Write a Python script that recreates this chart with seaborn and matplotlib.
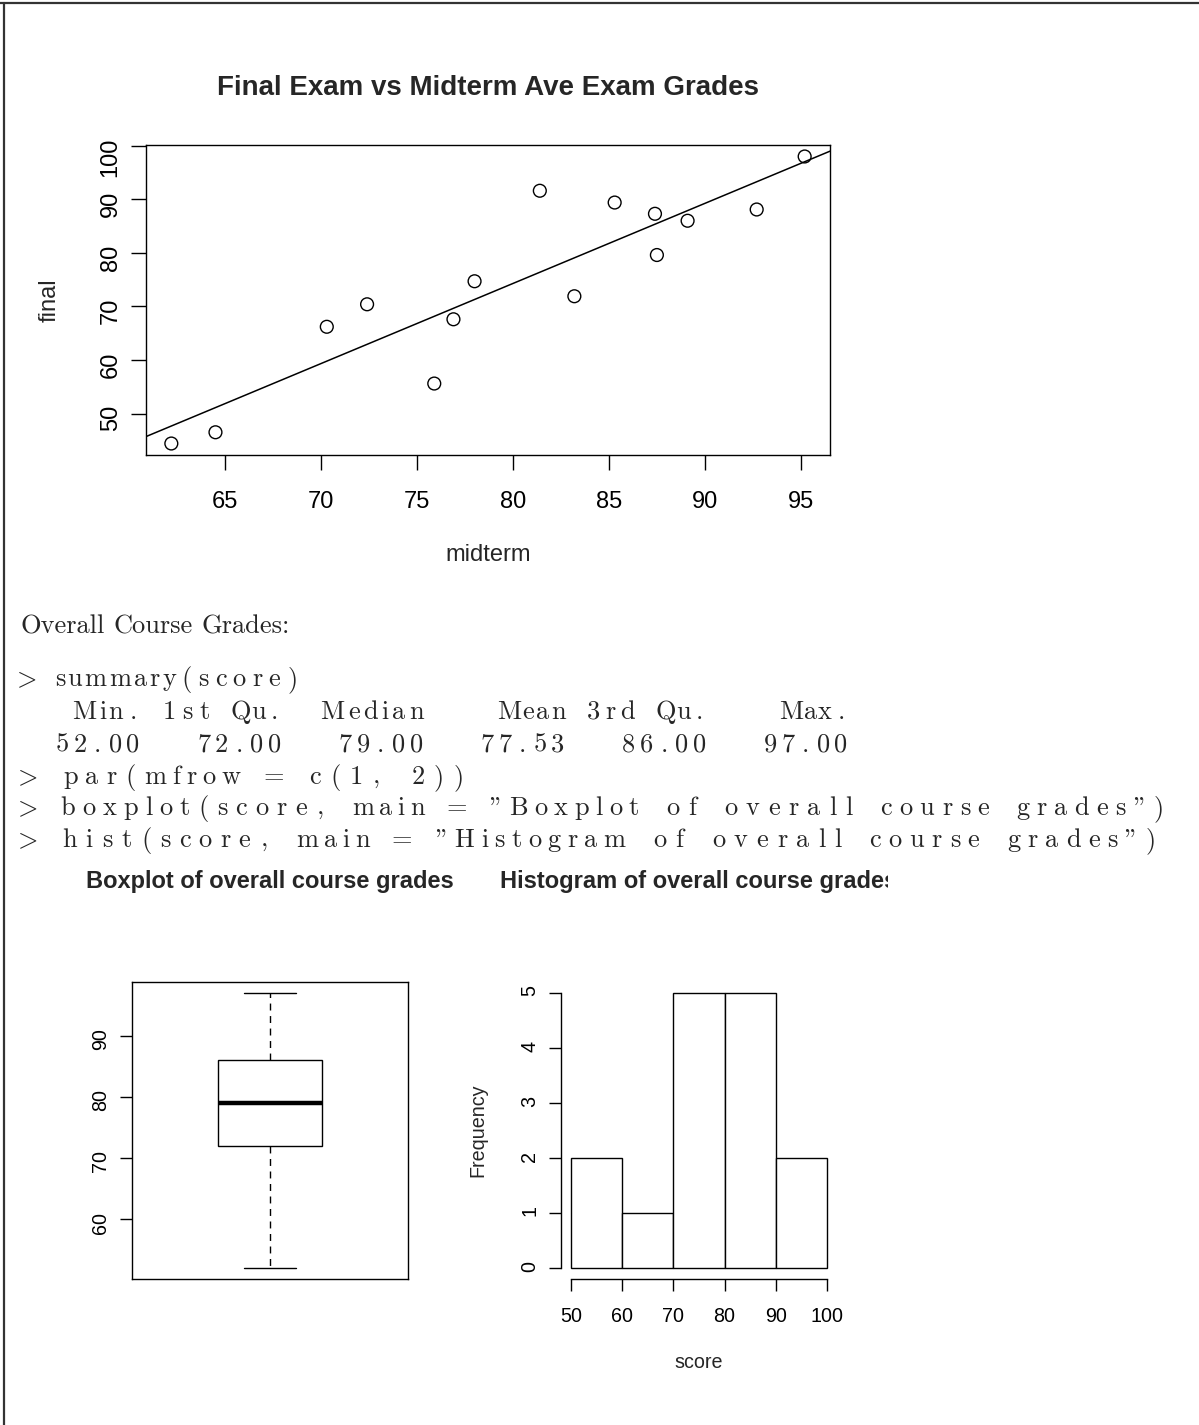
import re
import matplotlib
matplotlib.use("Agg")
import matplotlib.pyplot as plt
import seaborn as sns
from matplotlib.font_manager import FontProperties, findfont, get_font
from matplotlib.lines import Line2D
from matplotlib.transforms import Bbox, TransformedBbox

# --- valores ---
midterm = [62.2, 64.5, 70.3, 72.4, 75.9, 76.9, 78.0, 81.4, 83.2, 85.3, 87.4, 87.5, 89.1, 92.7, 95.2]
final = [44.4, 46.5, 66.2, 70.4, 55.6, 67.6, 74.7, 91.6, 71.9, 89.4, 87.3, 79.6, 86.0, 88.1, 98.0]
score = [52, 55, 63, 71, 73, 76, 78, 79, 82, 84, 85, 87, 89, 92, 97]
hist_breaks = [50, 60, 70, 80, 90, 100]

midterm_ticks = [65, 70, 75, 80, 85, 90, 95]
final_ticks = [50, 60, 70, 80, 90, 100]
box_ticks = [60, 70, 80, 90]
freq_ticks = [0, 1, 2, 3, 4, 5]

summary_names = ["Min.", "1st Qu.", "Median", "Mean", "3rd Qu.", "Max."]
summary_values = [52.00, 72.00, 79.00, 77.53, 86.00, 97.00]

W, H = 1199, 1425


def px_rect(l, t, r, b):
    # retangulo em pixels (origem no topo) -> coordenadas da figura
    return [l / W, 1 - b / H, (r - l) / W, (b - t) / H]


def adv_px(ch, family, size):
    font = get_font(findfont(FontProperties(family=family)))
    font.set_size(size, 100)
    return font.load_char(ord(ch)).linearHoriAdvance / 65536


def listing_line(fig, line, baseline, col, x0=18, size=19):
    # imita o lstlisting com colunas fixas: cada unidade ocupa n colunas
    for m in re.finditer(r"[A-Za-z0-9]+|\S", line):
        unit = m.group()
        fams = ["cmmi10" if c == ">" else "cmr10" for c in unit]
        widths = [adv_px(c, f, size) for c, f in zip(unit, fams)]
        gap = (len(unit) * col - sum(widths)) / len(unit)
        x = x0 + m.start() * col + gap / 2
        for c, f, w in zip(unit, fams, widths):
            fig.text((x + w / 2) / W, 1 - baseline / H, c, family=f, fontsize=size,
                     ha="center", va="baseline")
            x += w + gap


def tex_words(fig, text, x0, baseline, size=19):
    x = x0
    space = 0.333 * size * 100 / 72
    for word in text.split(" "):
        fig.text(x / W, 1 - baseline / H, word, family="cmr10", fontsize=size,
                 ha="left", va="baseline")
        x += sum(adv_px(c, "cmr10", size) for c in word) + space


def r_limits(values):
    lo, hi = min(values), max(values)
    d = 0.04 * (hi - lo)
    return lo - d, hi + d


sns.set_style("ticks")
plt.rcParams["font.family"] = ["Liberation Sans", "DejaVu Sans"]
plt.rcParams["axes.linewidth"] = 1.0
plt.rcParams["xtick.color"] = "black"
plt.rcParams["ytick.color"] = "black"

fig = plt.figure(figsize=(W / 100, H / 100), dpi=100)

# moldura da pagina (topo e esquerda)
fig.add_artist(Line2D([0, 1], [1 - 3 / H, 1 - 3 / H], transform=fig.transFigure,
                      color="#333333", lw=1.6))
fig.add_artist(Line2D([4 / W, 4 / W], [0, 1 - 3 / H], transform=fig.transFigure,
                      color="#333333", lw=1.6))

# ---------- Dispersao: final vs midterm ----------
ax1 = fig.add_axes(px_rect(146, 145, 830, 455))
ax1.set_xlim(*r_limits(midterm))
ax1.set_ylim(*r_limits(final))
sns.regplot(x=midterm, y=final, ax=ax1, ci=None, truncate=False, color="black",
            scatter_kws=dict(s=85, facecolors="none", edgecolors="black",
                             linewidths=1.0, alpha=1),
            line_kws=dict(lw=1.1))
ax1.set_xticks(midterm_ticks)
ax1.set_yticks(final_ticks)
ax1.tick_params(axis="both", length=11, width=1.0, labelsize=17, direction="out")
ax1.tick_params(axis="x", pad=15)
ax1.tick_params(axis="y", pad=6.5, labelrotation=90)
for s in ax1.spines.values():
    s.set_color("black")
ax1.set_xlabel("midterm", fontsize=17)
ax1.set_ylabel("final", fontsize=17)
ax1.xaxis.set_label_coords(0.5, -(555 - 455) / 310)
ax1.xaxis.label.set_va("center")
ax1.yaxis.set_label_coords(-(146 - 50) / 684, 0.5)
ax1.yaxis.label.set_va("center")
fig.text(488 / W, 1 - 88 / H, "Final Exam vs Midterm Ave Exam Grades",
         fontsize=20, fontweight="bold", ha="center", va="center")

# ---------- Bloco de texto (LaTeX) ----------
tex_words(fig, "Overall Course Grades:", 20, 633)
code_lines = [
    "> summary(score)",
    " ".join(f"{n:>7}" for n in summary_names),
    " ".join(f"{v:7.2f}" for v in summary_values),
    "> par(mfrow = c(1, 2))",
    '> boxplot(score, main = "Boxplot of overall course grades")',
    '> hist(score, main = "Histogram of overall course grades")',
]
col_widths = [17.7, 17.7, 17.7, 20.5, 19.5, 19.7]
baselines = [686, 719, 752, 784, 815, 847]
for line, cw, bl in zip(code_lines, col_widths, baselines):
    listing_line(fig, line, bl, cw)

# ---------- Boxplot ----------
ax2 = fig.add_axes(px_rect(132, 982, 408, 1279))
sns.boxplot(y=score, ax=ax2, width=0.38, color="white", linecolor="black", linewidth=1.0,
            whiskerprops=dict(linestyle=(0, (5, 4))), medianprops=dict(linewidth=3.2))
ax2.set_xlim(-0.5, 0.5)
ax2.set_ylim(*r_limits(score))
ax2.set_xticks([])
ax2.set_yticks(box_ticks)
ax2.tick_params(axis="y", length=8.5, width=1.0, labelsize=14.2, pad=7, labelrotation=90)
for s in ax2.spines.values():
    s.set_color("black")
fig.text(270 / W, 1 - 882 / H, "Boxplot of overall course grades",
         fontsize=17, fontweight="bold", ha="center", va="center")

# ---------- Histograma ----------
ax3 = fig.add_axes(px_rect(561, 982, 837, 1279))
sns.histplot(x=score, bins=hist_breaks, ax=ax3, color="white", edgecolor="black",
             linewidth=1.0, alpha=1)
ax3.set_xlim(48, 102)
ax3.set_ylim(*r_limits(freq_ticks))
ax3.set_xticks(hist_breaks)
ax3.set_yticks(freq_ticks)
ax3.spines[["top", "right"]].set_visible(False)
ax3.spines["left"].set_bounds(0, 5)
ax3.spines["bottom"].set_bounds(50, 100)
for s in ax3.spines.values():
    s.set_color("black")
ax3.tick_params(axis="both", length=8.5, width=1.0, labelsize=14.2, direction="out")
ax3.tick_params(axis="x", pad=12)
ax3.tick_params(axis="y", pad=7, labelrotation=90)
ax3.set_xlabel("score", fontsize=14.2)
ax3.set_ylabel("Frequency", fontsize=14.2)
ax3.xaxis.set_label_coords(0.5, -(1362 - 1279) / 297)
ax3.xaxis.label.set_va("center")
ax3.yaxis.set_label_coords(-(561 - 478) / 276, 0.5)
ax3.yaxis.label.set_va("center")
t = fig.text(699 / W, 1 - 882 / H, "Histogram of overall course grades",
             fontsize=17, fontweight="bold", ha="center", va="center")
t.set_clip_on(True)
t.set_clip_box(TransformedBbox(Bbox([[0, 0], [888 / W, 1]]), fig.transFigure))

fig.savefig("out.png", dpi=100)
